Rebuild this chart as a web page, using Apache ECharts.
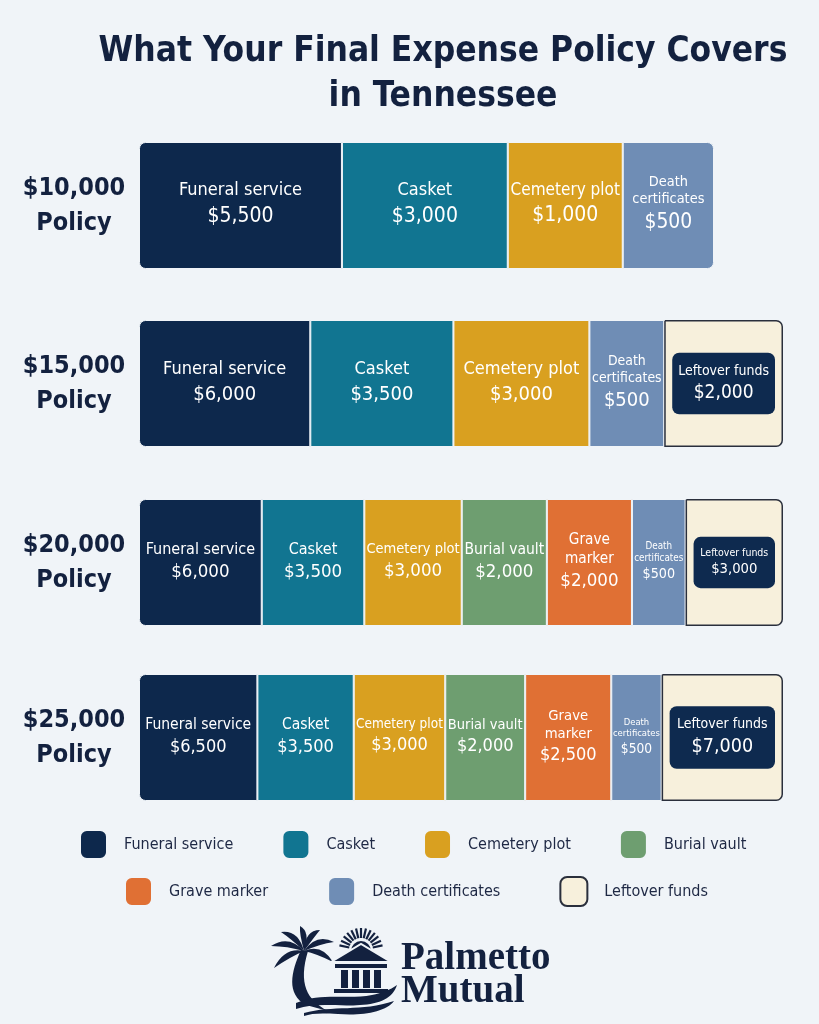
<!DOCTYPE html>
<html><head><meta charset="utf-8">
<script src="https://cdn.jsdelivr.net/npm/echarts@6/dist/echarts.min.js"></script>
<style>html,body{margin:0;padding:0;background:#f0f4f8}#c{width:819px;height:1024px}</style>
</head><body><div id="c"></div>
<script>
// ---- data ----
const policies = ['$10,000', '$15,000', '$20,000', '$25,000'];
const categories = ['Funeral service', 'Casket', 'Cemetery plot', 'Burial vault', 'Grave marker', 'Death certificates', 'Leftover funds'];
const funeralService    = [5500, 6000, 6000, 6500];
const casket            = [3000, 3500, 3500, 3500];
const cemeteryPlot      = [1000, 3000, 3000, 3000];
const burialVault       = [null, null, 2000, 2000];
const graveMarker       = [null, null, 2000, 2500];
const deathCertificates = [500, 500, 500, 500];
const leftoverFunds     = [null, 2000, 3000, 7000];

// ---- styling ----
const values = [funeralService, casket, cemeteryPlot, burialVault, graveMarker, deathCertificates, leftoverFunds];
const colors = ['#0d284c', '#117591', '#d9a020', '#6e9e70', '#e07034', '#6f8db5', '#f7f0dc'];
const nameLines = { 'Death certificates': ['Death', 'certificates'], 'Grave marker': ['Grave', 'marker'] };
const nameScale = { 'Death certificates': 0.8, 'Grave marker': 0.95 };
const FONT = '"DejaVu Sans Condensed","Liberation Sans Narrow",sans-serif';
const NAVY = '#13213f';
const BG = '#f0f4f8';
const gridTops = [142, 320, 499, 674];
const gridH = 127;
const gridLeft = 139;
const gridWidths = [575, 644, 644, 644];
const baseName = [18, 18, 16, 15.5];
const baseVal = [21, 20, 18.5, 18];
// Bar length is drawn proportional to the cube root of the amount (compressed, as in the
// original graphic, so that small items such as $500 stay legible).
const EXP = 1 / 3;
const fmt = v => '$' + v.toLocaleString('en-US');

const ctx = document.createElement('canvas').getContext('2d');
function textW(t, size) { ctx.font = size + 'px ' + FONT; return ctx.measureText(t).width; }
function fit(lines, base, maxW) {
  let s = base;
  while (s > 9 && Math.max(...lines.map(l => textW(l, s))) > maxW) s -= 0.5;
  return s;
}

const grids = [], xAxes = [], yAxes = [], series = [];
policies.forEach((p, r) => {
  const present = [];
  values.forEach((arr, k) => { if (arr[r] != null) present.push(k); });
  const weights = present.map(k => Math.pow(values[k][r], EXP));
  const sum = weights.reduce((a, b) => a + b, 0);
  grids.push({ left: gridLeft, top: gridTops[r], width: gridWidths[r], height: gridH });
  xAxes.push({ type: 'value', gridIndex: r, min: 0, max: sum, show: false });
  yAxes.push({
    type: 'category', gridIndex: r, data: [p],
    axisLine: { show: false }, axisTick: { show: false }, splitLine: { show: false },
    axisLabel: {
      margin: 65, align: 'center',
      formatter: v => '{a|' + v + '}\n{a|Policy}',
      rich: { a: { fontSize: 25, fontWeight: 'bold', color: NAVY, fontFamily: FONT, lineHeight: 35, align: 'center' } }
    }
  });
  present.forEach((k, i) => {
    const name = categories[k];
    const v = values[k][r];
    const segW = weights[i] / sum * gridWidths[r];
    const lines = nameLines[name] || [name];
    const first = i === 0, last = i === present.length - 1;
    const isLeft = name === 'Leftover funds';
    let nS, vS, label;
    if (isLeft) {
      const padH = 6;
      const inner = segW - 16 - 2 * padH;
      nS = fit(lines, r === 1 ? 14 : 15.5, inner);
      vS = Math.min(r === 1 ? 19 : 20, nS * 1.4);
      label = {
        show: true, position: 'inside', width: inner, padding: [9, padH],
        backgroundColor: '#0e2a4f', borderRadius: 7,
        formatter: () => lines.map(l => '{n|' + l + '}').join('\n') + '\n{v|' + fmt(v) + '}',
        rich: {
          n: { fontSize: nS, color: '#fff', fontFamily: FONT, lineHeight: nS * 1.35, align: 'center' },
          v: { fontSize: vS, color: '#fff', fontFamily: FONT, lineHeight: vS * 1.3, align: 'center' }
        }
      };
    } else {
      nS = fit(lines, baseName[r] * (nameScale[name] || 1), segW - 3);
      vS = Math.min(fit([fmt(v)], baseVal[r], segW - 8), nS * 1.45);
      label = {
        show: true, position: 'inside',
        formatter: () => lines.map(l => '{n|' + l + '}').join('\n') + '\n{v|' + fmt(v) + '}',
        rich: {
          n: { fontSize: nS, color: '#fff', fontFamily: FONT, lineHeight: nS * 1.22, align: 'center' },
          v: { fontSize: vS, color: '#fff', fontFamily: FONT, lineHeight: vS * 1.4, align: 'center' }
        }
      };
    }
    series.push({
      type: 'bar', name, xAxisIndex: r, yAxisIndex: r, stack: 'p' + r, barWidth: '100%',
      data: [Math.pow(v, EXP)],
      itemStyle: {
        color: colors[k],
        borderColor: isLeft ? '#2a2f3c' : BG,
        borderWidth: isLeft ? 1.5 : 1,
        borderRadius: [first ? 6 : 0, last ? 6 : 0, last ? 6 : 0, first ? 6 : 0]
      },
      label,
      emphasis: { disabled: true }
    });
  });
});

// ---- logo drawing (decorative) ----
let shapeId = 0;
function pathEl(d) {
  const nm = 'logoPath' + (shapeId++);
  echarts.graphic.registerShape(nm, echarts.graphic.extendPath(d, {}));
  return { type: nm, style: { fill: NAVY } };
}
function leaf(cx, cy, tx, ty, w) {
  const mx = (cx + tx) / 2, my = (cy + ty) / 2;
  const dx = tx - cx, dy = ty - cy, L = Math.hypot(dx, dy);
  const nx = -dy / L, ny = dx / L;
  const bend = -5;
  const c1x = mx + nx * w, c1y = my + ny * w + bend;
  const c2x = mx - nx * w * 0.3, c2y = my - ny * w * 0.3 + bend;
  return `M${cx},${cy} Q${c1x},${c1y} ${tx},${ty} Q${c2x},${c2y} ${cx},${cy} Z`;
}
const C = [304, 951];
const tips = [[274, 968], [271, 946], [281, 932], [300, 926], [320, 930], [334, 942], [333, 962]];
const logo = [];
tips.forEach(t => logo.push(pathEl(leaf(C[0], C[1], t[0], t[1], t[0] < C[0] ? 9 : -9))));
logo.push(pathEl('M301,950 C291,972 286,994 306,1005 L328,1011 C307,1000 298,984 308,951 Z'));
for (let a = -168; a <= -12; a += 13) {
  const rad = a * Math.PI / 180;
  logo.push({ type: 'line', shape: { x1: 361 + 12 * Math.cos(rad), y1: 950 + 12 * Math.sin(rad), x2: 361 + 22 * Math.cos(rad), y2: 950 + 22 * Math.sin(rad) }, style: { stroke: NAVY, lineWidth: 2.2 } });
}
logo.push({ type: 'circle', shape: { cx: 361, cy: 951, r: 10 }, style: { fill: NAVY } });
logo.push({ type: 'polygon', shape: { points: [[331, 962], [361, 944], [391, 962]] }, style: { fill: NAVY, stroke: BG, lineWidth: 2 } });
logo.push({ type: 'rect', shape: { x: 335, y: 964, width: 52, height: 4 }, style: { fill: NAVY } });
[341, 352, 363, 374].forEach(x => logo.push({ type: 'rect', shape: { x, y: 970, width: 7, height: 18 }, style: { fill: NAVY } }));
logo.push({ type: 'rect', shape: { x: 334, y: 989, width: 54, height: 4 }, style: { fill: NAVY } });
logo.push(pathEl('M296,1003 C322,992 348,1000 372,995 C382,993 390,990 397,985 C393,998 380,1004 360,1005 C336,1007 318,1002 296,1009 Z'));
logo.push(pathEl('M304,1013 C332,1005 362,1012 394,1001 C386,1012 362,1016 338,1014 C322,1013 312,1013 304,1016 Z'));
logo.push({ type: 'text', style: { text: 'Palmetto', x: 401, y: 959, font: 'bold 39px "Liberation Serif","DejaVu Serif",serif', fill: NAVY, verticalAlign: 'middle' } });
logo.push({ type: 'text', style: { text: 'Mutual', x: 401, y: 992, font: 'bold 39px "Liberation Serif","DejaVu Serif",serif', fill: NAVY, verticalAlign: 'middle' } });

const legendText = { fontSize: 16, color: '#1e2844', fontFamily: FONT, padding: [0, 0, 0, 12] };
const option = {
  backgroundColor: BG,
  animation: false,
  title: {
    text: 'What Your Final Expense Policy Covers\nin Tennessee',
    left: 438, top: 24, textAlign: 'center',
    textStyle: { fontSize: 35, fontWeight: 'bold', fontFamily: FONT, color: NAVY, lineHeight: 45 }
  },
  grid: grids, xAxis: xAxes, yAxis: yAxes,
  legend: [
    { data: categories.slice(0, 4), left: 74, top: 824, itemWidth: 27, itemHeight: 29, itemGap: 48, icon: 'roundRect', selectedMode: false, textStyle: legendText },
    { data: categories.slice(4), left: 119, top: 871, itemWidth: 27, itemHeight: 29, itemGap: 59, icon: 'roundRect', selectedMode: false, textStyle: legendText }
  ],
  series,
  graphic: [{ type: 'group', silent: true, children: logo }]
};
echarts.init(document.getElementById('c'), null, { renderer: 'canvas' }).setOption(option);
</script></body></html>
